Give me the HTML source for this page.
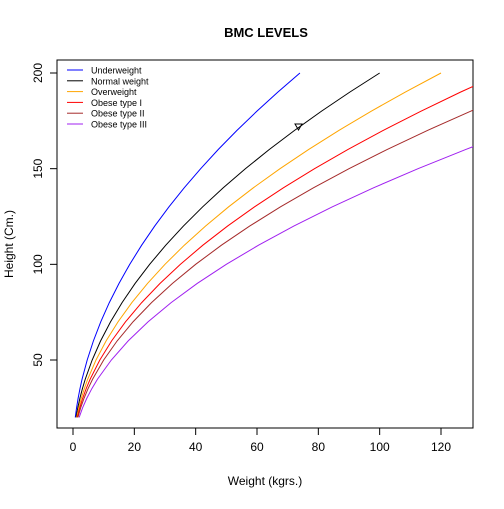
<!DOCTYPE html>
<html><head><meta charset="utf-8"><style>
body{margin:0;background:#fff}
text{font-family:"Liberation Sans",sans-serif}
</style></head><body>
<svg id="chart" width="504" height="504" xmlns="http://www.w3.org/2000/svg">
<defs><clipPath id="clip"><rect x="57" y="60" width="416" height="368"/></clipPath></defs>
<rect width="504" height="504" fill="#fff"/>
<text x="266" y="37" text-anchor="middle" font-size="13" font-weight="bold">BMC LEVELS</text>
<rect x="57" y="60" width="416" height="368" fill="none" stroke="#000"/>
<g id="xaxis"></g>
<g id="yaxis"></g>
<text x="265" y="485" text-anchor="middle" font-size="12">Weight (kgrs.)</text>
<text transform="translate(13,244) rotate(-90)" text-anchor="middle" font-size="12">Height (Cm.)</text>
<g id="series" clip-path="url(#clip)"></g>
<path d="M295,124 L302,124 L298.5,130 Z" fill="none" stroke="#000"/>
<g id="legend"></g>
</svg>
<script>
const heights=[20,25,30,35,40,50,60,70,80,90,100,110,120,130,140,150,160,170,180,190,200];
const seriesNames=["Underweight","Normal weight","Overweight","Obese type I","Obese type II","Obese type III"];
const seriesColors=["#0000ff","#000000","#ffa500","#ff0000","#a52a2a","#a020f0"];
const wUnder=[0.74,1.16,1.67,2.27,2.96,4.63,6.66,9.07,11.84,14.99,18.5,22.39,26.64,31.27,36.26,41.63,47.36,53.47,59.94,66.79,74];
const wNormal=[1,1.56,2.25,3.06,4,6.25,9,12.25,16,20.25,25,30.25,36,42.25,49,56.25,64,72.25,81,90.25,100];
const wOver=[1.2,1.88,2.7,3.68,4.8,7.5,10.8,14.7,19.2,24.3,30,36.3,43.2,50.7,58.8,67.5,76.8,86.7,97.2,108.3,120];
const wOb1=[1.4,2.19,3.15,4.29,5.6,8.75,12.6,17.15,22.4,28.35,35,42.35,50.4,59.15,68.6,78.75,89.6,101.15,113.4,126.35,140];
const wOb2=[1.6,2.5,3.6,4.9,6.4,10,14.4,19.6,25.6,32.4,40,48.4,57.6,67.6,78.4,90,102.4,115.6,129.6,144.4,160];
const wOb3=[2,3.13,4.5,6.13,8,12.5,18,24.5,32,40.5,50,60.5,72,84.5,98,112.5,128,144.5,162,180.5,200];
const xTicks=[0,20,40,60,80,100,120];
const yTicks=[50,100,150,200];
const NS="http://www.w3.org/2000/svg";
const sx=v=>73+v*(441-73)/120;
const sy=v=>360-(v-50)*(360-73)/150;
function mk(tag,attrs,parent){const e=document.createElementNS(NS,tag);for(const k in attrs)e.setAttribute(k,attrs[k]);parent.appendChild(e);return e;}
const xa=document.getElementById('xaxis');
mk('line',{x1:sx(0),x2:sx(120),y1:428,y2:428,stroke:'#000'},xa);
xTicks.forEach(t=>{
 const l=mk('line',{x1:sx(t),x2:sx(t),y1:428,y2:435,stroke:'#000'},xa);
 
 
 const tx=mk('text',{x:sx(t),y:451,'text-anchor':'middle','font-size':12},xa);
 tx.textContent=t;
 
 
});
const ya=document.getElementById('yaxis');
mk('line',{x1:57,x2:57,y1:sy(50),y2:sy(200),stroke:'#000'},ya);
yTicks.forEach(t=>{
 const l=mk('line',{x1:50,x2:57,y1:sy(t),y2:sy(t),stroke:'#000'},ya);
 
 
 const tx=mk('text',{transform:`translate(42,${sy(t)}) rotate(-90)`,'text-anchor':'middle','font-size':12},ya);
 tx.textContent=t;
 
 
});
const sg=document.getElementById('series');
[wUnder,wNormal,wOver,wOb1,wOb2,wOb3].forEach((ws,i)=>{
 const pts=ws.map((w,j)=>sx(w).toFixed(2)+','+sy(heights[j]).toFixed(2)).join(' ');
 const p=mk('polyline',{points:pts,fill:'none',stroke:seriesColors[i],'stroke-width':1},sg);
 
 
});
const lg=document.getElementById('legend');
seriesNames.forEach((n,i)=>{
 const y=70+i*10.8;
 const l=mk('line',{x1:67,x2:83,y1:y,y2:y,stroke:seriesColors[i]},lg);
 
 
 const t=mk('text',{x:91,y:y+3.5,'font-size':9},lg);
 t.textContent=n;
 
 
});
</script>
</body></html>
